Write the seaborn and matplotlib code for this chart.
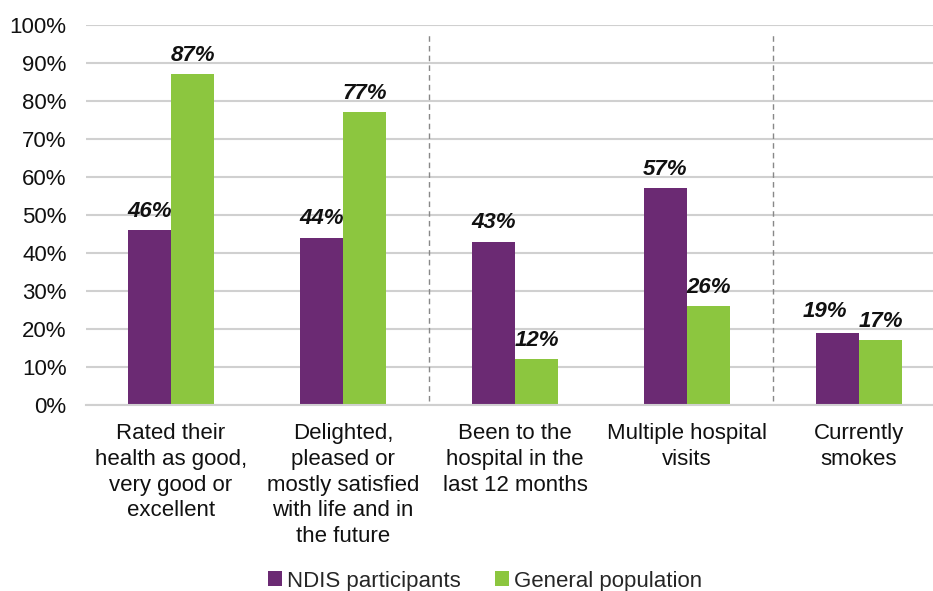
import matplotlib
matplotlib.use("Agg")
import matplotlib.pyplot as plt
import seaborn as sns
import pandas as pd
from matplotlib.ticker import FuncFormatter
from matplotlib.patches import Patch

categories = [
    "Rated their\nhealth as good,\nvery good or\nexcellent",
    "Delighted,\npleased or\nmostly satisfied\nwith life and in\nthe future",
    "Been to the\nhospital in the\nlast 12 months",
    "Multiple hospital\nvisits",
    "Currently\nsmokes",
]
ndis = [46, 44, 43, 57, 19]
general = [87, 77, 12, 26, 17]
series = ["NDIS participants", "General population"]
colors = ["#6B2A73", "#8CC63F"]

df = pd.DataFrame({
    "category": categories * 2,
    "value": ndis + general,
    "series": [series[0]] * len(categories) + [series[1]] * len(categories),
})

sns.set_theme(style="white")
plt.rcParams["font.family"] = ["Liberation Sans", "DejaVu Sans"]

fig = plt.figure(figsize=(9.33, 5.91), dpi=100)
ax = fig.add_axes([86 / 933, 1 - 405 / 591, 1 - 86 / 933, (405 - 25) / 591])

sns.barplot(data=df, x="category", y="value", hue="series", palette=colors,
            width=0.5, ax=ax, saturation=1, legend=False, edgecolor="none")

all_labels = []
for c in ax.containers:
    txts = ax.bar_label(c, labels=[f"{int(round(v))}%" for v in c.datavalues],
                        padding=6, fontsize=16, fontweight="bold", fontstyle="italic",
                        color="#111111")
    all_labels.append(txts)
# nudge the overlapping "19%" label left, as in the reference
t = all_labels[0][-1]
t.xyann = (t.xyann[0] - 9, t.xyann[1] + 2)

ax.set_ylim(0, 100)
ax.set_xlim(-0.494, 4.43)
ax.set_yticks(range(0, 101, 10))
ax.yaxis.set_major_formatter(FuncFormatter(lambda v, p: f"{int(v)}%"))
ax.grid(axis="y", color="#d0d0d0", linewidth=1.5)
ax.set_axisbelow(True)
for s in ["left", "right", "top"]:
    ax.spines[s].set_visible(False)
ax.spines["bottom"].set_color("#d0d0d0")
ax.spines["bottom"].set_linewidth(1.5)
ax.tick_params(axis="both", length=0, colors="#111111")
ax.tick_params(axis="y", labelsize=16, pad=14)
ax.tick_params(axis="x", labelsize=16, pad=13)
ax.set_xlabel("")
ax.set_ylabel("")
for lbl in ax.get_xticklabels():
    lbl.set_horizontalalignment("center")
    lbl.set_linespacing(1.3)

for xv in [1.5, 3.5]:
    ax.plot([xv, xv], [1, 98], linestyle=(0, (4, 3)), color="#888888", linewidth=1.0)

handles = [Patch(facecolor=colors[i], edgecolor="none", label=series[i]) for i in range(2)]
fig.legend(handles=handles, loc="center", bbox_to_anchor=(485 / 933, 1 - 581 / 591),
           ncol=2, frameon=False, fontsize=16, handlelength=0.65, handleheight=0.65,
           handletextpad=0.2, columnspacing=1.55)

fig.savefig("out.png", dpi=100)
